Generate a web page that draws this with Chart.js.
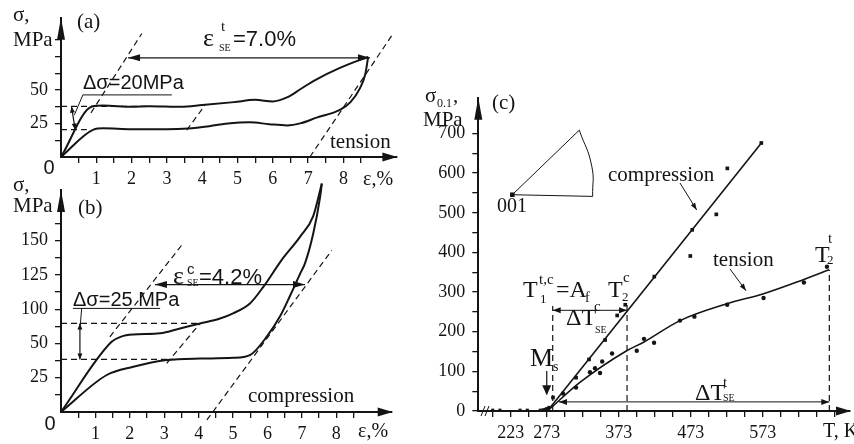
<!DOCTYPE html>
<html>
<head>
<meta charset="utf-8">
<script src="https://cdn.jsdelivr.net/npm/chart.js@4.4.0/dist/chart.umd.min.js"></script>
<style>
  html, body { margin: 0; padding: 0; background: #fff; }
  body { width: 854px; height: 444px; position: relative; overflow: hidden; }
  canvas { position: absolute; }
  #chartA { left: 0; top: 0; width: 420px; height: 195px; }
  #chartB { left: 0; top: 170px; width: 420px; height: 274px; }
  #chartC { left: 400px; top: 80px; width: 454px; height: 364px; }
</style>
</head>
<body>
<canvas id="chartA" width="420" height="195"></canvas>
<canvas id="chartB" width="420" height="274"></canvas>
<canvas id="chartC" width="454" height="364"></canvas>
<script>
// (a) tension: strain %, stress MPa
const strainLoadA = [0, 0.88, 1.2, 2.0, 2.5, 3.4, 4.0, 4.9, 5.5, 6.0, 6.4, 6.8, 7.2, 7.9, 8.7];
const stressLoadA = [0, 37.8, 38.5, 37.5, 38, 37.5, 38.8, 41, 42.7, 41.5, 44.5, 51, 57.5, 66.6, 74.8];
const strainUnloadA = [0, 0.92, 1.2, 2.0, 3.0, 3.6, 4.2, 4.8, 5.35, 5.9, 6.4, 6.8, 7.24, 7.9, 8.2, 8.47, 8.62, 8.7];
const stressUnloadA = [0, 20.5, 21.5, 20.8, 20.8, 21.3, 23, 25.3, 25.9, 24.5, 23.6, 25.3, 29.4, 35.2, 41, 51.5, 62, 74.8];
const guidesA = [
  [[0.85, 33], [2.29, 92.3]],
  [[3.56, 20.1], [4.08, 38.7]],
  [[7.05, 0], [9.41, 92.3]],
  [[0, 37.8], [2.43, 37.8]],
  [[0, 20.5], [0.73, 20.5]]
];
const stressTicksA = [25, 50];
const stressTickLabelsA = ['25', '50'];

// (b) compression
const strainLoadB = [0, 1.47, 1.75, 2.1, 2.88, 3.46, 4.04, 4.6, 5.0, 5.49, 5.88, 6.4, 6.95, 7.33, 7.58];
const stressLoadB = [0, 51.2, 55, 56.5, 57.4, 61, 64.6, 68, 72, 79.2, 91.3, 110.5, 128, 143, 166.7];
const strainUnloadB = [0, 1.33, 2.1, 3.07, 4.04, 5.0, 5.49, 5.98, 6.37, 6.66, 6.95, 7.09, 7.33, 7.53, 7.58];
const stressUnloadB = [0, 27, 33, 37.9, 39, 39.5, 41.5, 55, 70, 85, 101, 108.4, 130.2, 157, 166.7];
const guidesB = [
  [[1.42, 54.9], [3.51, 121.8]],
  [[3.07, 35.5], [4.04, 64.6]],
  [[4.24, -5.8], [7.87, 118]],
  [[0, 64.6], [4.04, 64.6]],
  [[0, 38.4], [3.27, 38.4]]
];
const stressTickValuesB = [25, 50, 75, 100, 125];
const stressTickLabelsB = ['25', '50', '100', '125', '150'];

const strainTicks = [1, 2, 3, 4, 5, 6, 7, 8];
const strainTickLabels = ['1', '2', '3', '4', '5', '6', '7', '8'];

// (c) yield stress vs temperature
const tempCompC = [281.7, 313.7, 331.7, 354, 370.8, 382, 422.3, 472.3, 475, 508.4, 523.7, 570.9];
const sigmaCompC = [34, 84, 130, 179, 241, 268, 339, 391, 457, 496, 612, 676];
const compLineT = [274, 571];
const compLineS = [0, 676];
const tempTensC = [295.6, 313.7, 333, 340, 347, 350, 363.7, 398, 408, 422, 458, 478, 523.5, 574, 630, 662];
const sigmaTensC = [44, 59, 98, 108, 96, 125, 145, 152, 182, 172, 228, 238, 268, 285, 324, 364];
const tensLineT = [274, 319, 384, 408, 458, 524, 574, 630, 665];
const tensLineS = [0, 72, 152, 174, 228, 271, 296, 332, 356];
const tempBaseC = [198, 208, 236, 246, 264, 268, 271, 273, 276];
const sigmaBaseC = [2, 2, 2, 2, 2, 3, 4, 6, 9];
const guidesC = [
  [[281.3, 0], [281.3, 265]],
  [[384.5, 0], [384.5, 269]],
  [[665.3, 0], [665.3, 356]]
];
const insetEdges = [[318.2, 708.4], [225.2, 545.5], [336.8, 541.3]];
const insetArc = [[318.2, 708.4], [335.5, 617.7], [336.8, 541.3]];
const tempTicksC = [223, 273, 373, 473, 573];
const tempTickLabelsC = ['223', '273', '373', '473', '573'];
const sigmaTicksC = [0, 100, 200, 300, 400, 500, 600, 700];
const sigmaTickLabelsC = ['0', '100', '200', '300', '400', '500', '600', '700'];

const INK = '#141414';
const SERIF = "'Liberation Serif', 'DejaVu Serif', serif";
const SANS = "'Liberation Sans', 'DejaVu Sans', sans-serif";

function range(a, b, step) {
  const out = [];
  for (let v = a; v <= b + 1e-9; v += step) out.push(+v.toFixed(3));
  return out;
}
function labelFrom(values, labels) {
  return v => {
    const i = values.findIndex(t => Math.abs(t - v) < 1e-6);
    return i < 0 ? '' : labels[i];
  };
}
function pts(xs, ys) { return xs.map((x, i) => ({ x: x, y: ys[i] })); }

function curve(xs, ys, w) {
  return { data: pts(xs, ys), showLine: true, borderColor: INK, borderWidth: w || 2,
    pointRadius: 0, cubicInterpolationMode: 'monotone', clip: false };
}
function dashed(seg) {
  return { data: seg.map(p => ({ x: p[0], y: p[1] })), showLine: true, borderColor: INK,
    borderWidth: 1.2, borderDash: [6, 4], pointRadius: 0, tension: 0, clip: false };
}
function thin(seg, tension) {
  return { data: seg.map(p => ({ x: p[0], y: p[1] })), showLine: true, borderColor: INK,
    borderWidth: 1, pointRadius: 0, tension: tension || 0, clip: false };
}
function marks(xs, ys, style, r) {
  return { data: pts(xs, ys), showLine: false, pointStyle: style, pointRadius: r,
    backgroundColor: INK, borderColor: INK, borderWidth: 0, clip: false };
}

function scaleX(min, max, tickVals, labelOf, height, pad) {
  return {
    type: 'linear', position: 'bottom', min: min, max: max,
    afterBuildTicks: s => { s.ticks = tickVals.map(v => ({ value: v })); },
    afterFit: s => { s.height = height; },
    grid: { drawOnChartArea: false, drawTicks: true, tickLength: 6, color: INK, lineWidth: 1.3 },
    border: { display: true, color: INK, width: 2 },
    ticks: { autoSkip: false, maxRotation: 0, padding: pad, color: INK,
      font: { family: SERIF, size: 18 }, callback: v => labelOf(v) }
  };
}
function scaleY(min, max, tickVals, labelOf, width, pad) {
  return {
    type: 'linear', position: 'left', min: min, max: max,
    afterBuildTicks: s => { s.ticks = tickVals.map(v => ({ value: v })); },
    afterFit: s => { s.width = width; },
    grid: { drawOnChartArea: false, drawTicks: true, tickLength: 6, color: INK, lineWidth: 1.3 },
    border: { display: true, color: INK, width: 2 },
    ticks: { autoSkip: false, padding: pad, color: INK,
      font: { family: SERIF, size: 18 }, callback: v => labelOf(v) }
  };
}
function options(padding, x, y) {
  return {
    responsive: false, animation: false, events: [],
    layout: { padding: padding, autoPadding: false },
    plugins: { legend: { display: false }, tooltip: { enabled: false } },
    scales: { x: x, y: y }
  };
}

// drawing helpers
function head(ctx, x1, y1, x2, y2, len, half) {
  const a = Math.atan2(y2 - y1, x2 - x1);
  const bx = x2 - len * Math.cos(a), by = y2 - len * Math.sin(a);
  ctx.beginPath();
  ctx.moveTo(x2, y2);
  ctx.lineTo(bx + half * Math.sin(a), by - half * Math.cos(a));
  ctx.lineTo(bx - half * Math.sin(a), by + half * Math.cos(a));
  ctx.closePath();
  ctx.fill();
}
function seg(ctx, x1, y1, x2, y2, w) {
  ctx.lineWidth = w;
  ctx.setLineDash([]);
  ctx.beginPath();
  ctx.moveTo(x1, y1);
  ctx.lineTo(x2, y2);
  ctx.stroke();
}
function dblArrow(ctx, x1, y1, x2, y2, w, len, half) {
  seg(ctx, x1, y1, x2, y2, w);
  head(ctx, x2, y2, x1, y1, len, half);
  head(ctx, x1, y1, x2, y2, len, half);
}
function writer(ctx, ox, oy) {
  return (s, x, y, font, align) => {
    ctx.font = font;
    ctx.textAlign = align || 'left';
    ctx.textBaseline = 'alphabetic';
    ctx.fillText(s, x - ox, y - oy);
  };
}
const serif = n => n + 'px ' + SERIF;
const sans = n => n + 'px ' + SANS;

function axisArrows(chart) {
  const ctx = chart.ctx, ca = chart.chartArea;
  head(ctx, ca.left, ca.bottom, ca.left, ca.top, 22, 4);
  head(ctx, ca.left, ca.bottom, ca.right + 1, ca.bottom, 15, 4.5);
}

function drawA(chart) {
  const ctx = chart.ctx, X = v => chart.scales.x.getPixelForValue(v), Y = v => chart.scales.y.getPixelForValue(v);
  const put = writer(ctx, 0, 0);
  ctx.save();
  ctx.fillStyle = INK; ctx.strokeStyle = INK;
  axisArrows(chart);
  dblArrow(ctx, X(1.9), Y(74.1), X(8.75), Y(74.1), 1.2, 12, 3.5);
  dblArrow(ctx, X(0.3), Y(37.5), X(0.4), Y(20.5), 1.2, 6, 2.5);
  seg(ctx, X(0.62), Y(46.4), X(0.38), Y(31.5), 1);
  seg(ctx, X(0.62), Y(46.4), X(3.14), Y(46.4), 1);
  put('σ,', 13, 21, serif(21));
  put('MPa', 13, 46, serif(21));
  put('(a)', 77, 28, serif(21));
  put('0', 49, 174, sans(20), 'center');
  put('Δσ=20MPa', 83, 89, sans(20));
  put('ε', 203, 46, serif(26));
  put('t', 221, 31, serif(15));
  put('SE', 219, 51, serif(10));
  put('=7.0%', 233, 46, sans(22));
  put('tension', 330, 148, serif(21));
  put('ε,%', 363, 185, serif(20));
  ctx.restore();
}

function drawB(chart) {
  const ctx = chart.ctx, X = v => chart.scales.x.getPixelForValue(v), Y = v => chart.scales.y.getPixelForValue(v);
  const put = writer(ctx, 0, 170);
  ctx.save();
  ctx.fillStyle = INK; ctx.strokeStyle = INK;
  axisArrows(chart);
  dblArrow(ctx, X(2.73), Y(93), X(7.09), Y(93), 1.2, 12, 3.5);
  dblArrow(ctx, X(0.55), Y(64.6), X(0.55), Y(38.4), 1.2, 6, 2.5);
  seg(ctx, X(0.6), Y(75.6), X(0.55), Y(60), 1);
  seg(ctx, X(0.35), Y(75.6), X(2.88), Y(75.6), 1);
  put('σ,', 13, 191, serif(21));
  put('MPa', 13, 212, serif(21));
  put('(b)', 78, 214, serif(21));
  put('0', 50, 430, sans(20), 'center');
  put('Δσ=25 MPa', 73, 306, sans(20));
  put('ε', 173, 284, serif(26));
  put('c', 187, 274, sans(15));
  put('SE', 187, 286, serif(10));
  put('=4.2%', 199, 284, sans(22));
  put('compression', 248, 402, serif(21));
  put('ε,%', 358, 437, serif(20));
  ctx.restore();
}

function drawC(chart) {
  const ctx = chart.ctx, X = v => chart.scales.x.getPixelForValue(v), Y = v => chart.scales.y.getPixelForValue(v);
  const OX = 400, OY = 80;
  const put = writer(ctx, OX, OY);
  ctx.save();
  ctx.fillStyle = INK; ctx.strokeStyle = INK;
  axisArrows(chart);
  // axis break
  seg(ctx, 481 - OX, 416 - OY, 485 - OX, 406 - OY, 1);
  seg(ctx, 485 - OX, 416 - OY, 489 - OX, 406 - OY, 1);
  // Ms arrow
  seg(ctx, X(273), Y(101), X(273), Y(42), 1.2);
  head(ctx, X(273), Y(101), X(273), Y(40), 10, 4.5);
  dblArrow(ctx, X(281.3), Y(254), X(384.5), Y(254), 1, 8, 3);
  dblArrow(ctx, X(290), Y(23), X(665.3), Y(23), 1, 8, 3);
  // leaders
  seg(ctx, 680 - OX, 183 - OY, 696.7 - OX, 210 - OY, 1);
  head(ctx, 680 - OX, 183 - OY, 696.7 - OX, 210 - OY, 7, 2.5);
  seg(ctx, 730 - OX, 269 - OY, 746 - OX, 290.7 - OY, 1);
  head(ctx, 730 - OX, 269 - OY, 746 - OX, 290.7 - OY, 7, 2.5);

  put('σ', 425, 102, serif(21));
  put('0.1', 437, 107, serif(12));
  put(',', 453, 102, serif(21));
  put('MPa', 423, 126, serif(21));
  put('(c)', 492, 109, serif(21));
  put('001', 497, 212, serif(20));
  put('compression', 608, 181, serif(21));
  put('tension', 713, 266, serif(21));
  put('T', 523, 297, serif(24));
  put('t,c', 539, 284, serif(15));
  put('1', 540, 303, serif(13));
  put('=A', 556, 297, serif(24));
  put('f', 585, 302, serif(14));
  put('T', 608, 297, serif(24));
  put('c', 623, 282, serif(15));
  put('2', 622, 301, serif(13));
  put('ΔT', 566, 325, serif(24));
  put('c', 594, 311, serif(15));
  put('SE', 595, 333, serif(10));
  put('M', 530, 366, serif(26));
  put('s', 553, 371, serif(14));
  put('ΔT', 695, 400, serif(24));
  put('t', 723, 387, serif(15));
  put('SE', 723, 401, serif(10));
  put('T', 815, 262, serif(24));
  put('t', 828, 243, serif(15));
  put('2', 827, 264, serif(13));
  put('T, K', 823, 437, serif(20));
  ctx.restore();
}

new Chart(document.getElementById('chartA'), {
  type: 'scatter',
  data: { datasets: [
    curve(strainLoadA, stressLoadA),
    curve(strainUnloadA, stressUnloadA)
  ].concat(guidesA.map(dashed)) },
  options: options({ left: 0, right: 23.6, top: 8, bottom: 0 },
    scaleX(0, 9.5, range(0.5, 8.5, 0.5), labelFrom(strainTicks, strainTickLabels), 38, 5),
    scaleY(0, 104, range(12.5, 87.5, 12.5), labelFrom(stressTicksA, stressTickLabelsA), 61, 7)),
  plugins: [{ id: 'decorA', afterDraw: drawA }]
});

new Chart(document.getElementById('chartB'), {
  type: 'scatter',
  data: { datasets: [
    curve(strainLoadB, stressLoadB),
    curve(strainUnloadB, stressUnloadB)
  ].concat(guidesB.map(dashed)) },
  options: options({ left: 0, right: 28.3, top: 20, bottom: 0 },
    scaleX(0, 9.61, range(0.5, 8.5, 0.5), labelFrom(strainTicks, strainTickLabels), 32, 5),
    scaleY(0, 162, range(12.5, 137.5, 12.5), labelFrom(stressTickValuesB, stressTickLabelsB), 61, 7)),
  plugins: [{ id: 'decorB', afterDraw: drawB }]
});

new Chart(document.getElementById('chartC'), {
  type: 'scatter',
  data: { datasets: [
    curve(compLineT, compLineS, 1.6),
    curve(tensLineT, tensLineS, 1.6),
    marks(tempCompC, sigmaCompC, 'rect', 2.6),
    marks(tempTensC, sigmaTensC, 'circle', 2.2),
    marks(tempBaseC, sigmaBaseC, 'rect', 2.2),
    thin(insetEdges),
    thin(insetArc, 0.5),
    marks([insetEdges[1][0]], [insetEdges[1][1]], 'rect', 3.2)
  ].concat(guidesC.map(dashed)) },
  options: options({ left: 0, right: 4, top: 9.5, bottom: 0 },
    scaleX(178, 694, range(198, 673, 25), labelFrom(tempTicksC, tempTickLabelsC), 33, 5),
    scaleY(0, 790, range(0, 700, 50), labelFrom(sigmaTicksC, sigmaTickLabelsC), 78.3, 7)),
  plugins: [{ id: 'decorC', afterDraw: drawC }]
});
</script>
</body>
</html>
